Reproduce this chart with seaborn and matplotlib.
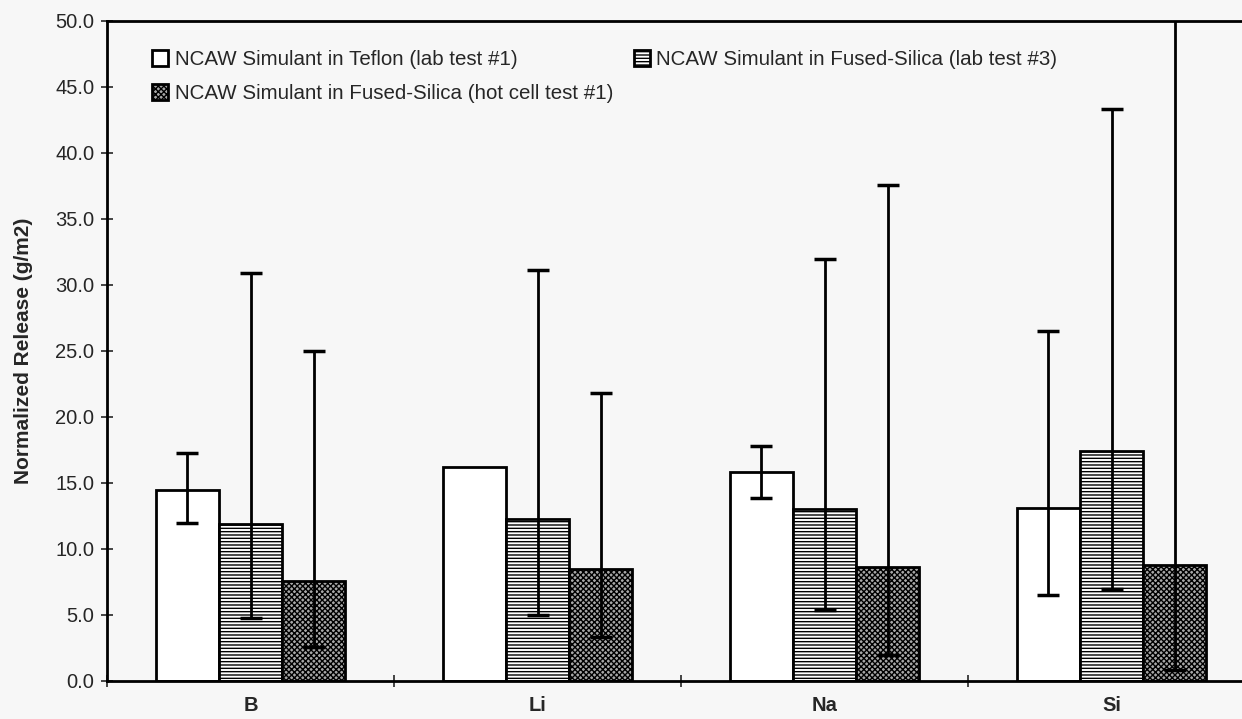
import matplotlib
matplotlib.use("Agg")
import matplotlib.pyplot as plt
import seaborn as sns
import pandas as pd
import numpy as np
from matplotlib.ticker import MultipleLocator, FormatStrFormatter, FixedLocator

elements = ["B", "Li", "Na", "Si"]
series = ["NCAW Simulant in Teflon (lab test #1)",
          "NCAW Simulant in Fused-Silica (hot cell test #1)",
          "NCAW Simulant in Fused-Silica (lab test #3)"]
hue_order = [series[0], series[2], series[1]]

teflon = [14.5, 16.2, 15.8, 13.1]
teflon_lo = [12.0, np.nan, 13.9, 6.5]
teflon_hi = [17.3, np.nan, 17.8, 26.5]

lab3 = [11.9, 12.3, 13.0, 17.4]
lab3_lo = [4.8, 5.0, 5.4, 7.0]
lab3_hi = [30.9, 31.1, 32.0, 43.3]

hot1 = [7.6, 8.5, 8.6, 8.8]
hot1_lo = [2.6, 3.3, 2.0, 0.8]
hot1_hi = [25.0, 21.8, 37.6, 60.0]

sns.set_theme(style="white")
plt.rcParams['font.family'] = ['Liberation Sans', 'DejaVu Sans']
plt.rcParams['hatch.linewidth'] = 1.0

df = pd.DataFrame({
    "Element": elements * 3,
    "Series": [series[0]] * 4 + [series[2]] * 4 + [series[1]] * 4,
    "Value": teflon + lab3 + hot1,
})

bg = "#f7f7f7"
fig = plt.figure(figsize=(12.42, 7.19), dpi=100, facecolor=bg)
ax = fig.add_axes([107/1242, 1 - 681/719, 1 - 107/1242, 660/719])
ax.set_facecolor(bg)

sns.barplot(data=df, x="Element", y="Value", hue="Series", hue_order=hue_order,
            order=elements, palette=["white", "white", "#a8a8a8"], edgecolor="black",
            linewidth=2.0, width=0.66, gap=0, errorbar=None, ax=ax, legend=False)

hatches = ["", "-----", "xxxxxx"]
los = [teflon_lo, lab3_lo, hot1_lo]
his = [teflon_hi, lab3_hi, hot1_hi]
vals = [teflon, lab3, hot1]
for cont, h, lo, hi, v in zip(ax.containers, hatches, los, his, vals):
    xs = []
    for bar in cont:
        bar.set_hatch(h)
        xs.append(bar.get_x() + bar.get_width() / 2)
    xs = np.array(xs)
    v = np.array(v); lo = np.array(lo); hi = np.array(hi)
    ax.errorbar(xs, v, yerr=[v - lo, hi - v], fmt="none", ecolor="black",
                elinewidth=2.0, capsize=8, capthick=2.5, zorder=5)

ax.set_ylim(0, 50)
ax.set_xlim(-0.5, -0.5 + (1242 - 107) / 287)
ax.yaxis.set_major_locator(MultipleLocator(5))
ax.yaxis.set_major_formatter(FormatStrFormatter("%.1f"))
ax.tick_params(axis="y", which="major", direction="inout", length=8, width=1.2,
               labelsize=14.5, left=True, pad=5)
ax.xaxis.set_minor_locator(FixedLocator([-0.5, 0.5, 1.5, 2.5]))
ax.tick_params(axis="x", which="minor", direction="inout", length=8, width=1.2, bottom=True)
ax.tick_params(axis="x", which="major", length=0, labelsize=14.5, pad=11)
for lbl in ax.get_xticklabels():
    lbl.set_fontweight("bold")
ax.set_xlabel("")
ax.set_ylabel("Normalized Release (g/m2)", fontsize=15, fontweight="bold", labelpad=16)

for side in ["left", "bottom", "top"]:
    ax.spines[side].set_visible(True)
    ax.spines[side].set_color("black")
    ax.spines[side].set_linewidth(2.0)
ax.spines["right"].set_visible(False)

# legend: column 1 = Teflon, hot cell; column 2 = lab test #3
conts = dict(zip(hue_order, ax.containers))
leg_labels = [series[0], series[1], series[2]]
leg_handles = [conts[s].patches[0] for s in leg_labels]
leg = ax.legend(leg_handles, leg_labels, ncol=2,
                loc="upper left", bbox_to_anchor=(0.027, 0.978), frameon=False,
                fontsize=14.8, handlelength=0.8, handleheight=0.8, handletextpad=0.3,
                columnspacing=1.0, labelspacing=0.75, borderaxespad=0.3)

fig.savefig("out.png", dpi=100, facecolor=bg)
